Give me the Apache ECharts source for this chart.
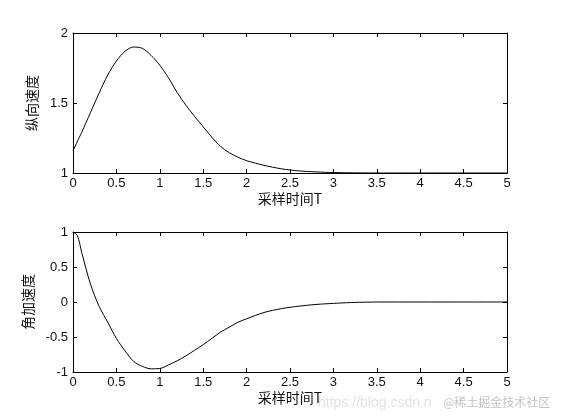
<!DOCTYPE html>
<html>
<head>
<meta charset="utf-8">
<script src="https://cdn.jsdelivr.net/npm/echarts@6/dist/echarts.min.js"></script>
<style>
html,body{margin:0;padding:0;background:#fff;}
#chart{width:561px;height:420px;}
</style>
</head>
<body>
<div id="chart"></div>
<script>
// ---- data ----
var timeTop  = [0, 0.1, 0.2, 0.3, 0.4, 0.5, 0.6, 0.7, 0.8, 0.9, 1.0, 1.1, 1.2, 1.3, 1.4, 1.5, 1.6, 1.7, 1.8, 1.9, 2.0, 2.2, 2.4, 2.6, 2.8, 3.0, 3.5, 4.0, 4.5, 5.0];
var speedTop = [1.16, 1.29, 1.43, 1.57, 1.70, 1.80, 1.87, 1.90, 1.89, 1.84, 1.77, 1.68, 1.575, 1.485, 1.405, 1.33, 1.255, 1.19, 1.145, 1.113, 1.088, 1.055, 1.03, 1.015, 1.008, 1.003, 1.0, 1.0, 1.0, 1.0];

var timeBottom = [0, 0.05, 0.1, 0.2, 0.3, 0.4, 0.5, 0.6, 0.7, 0.8, 0.9, 1.0, 1.1, 1.2, 1.3, 1.4, 1.5, 1.6, 1.7, 1.8, 1.9, 2.0, 2.2, 2.4, 2.6, 2.8, 3.0, 3.2, 3.4, 3.5, 4.0, 4.5, 5.0];
var accelBottom = [1.0, 0.95, 0.71, 0.26, -0.06, -0.29, -0.52, -0.70, -0.85, -0.92, -0.955, -0.95, -0.90, -0.84, -0.77, -0.69, -0.61, -0.52, -0.43, -0.36, -0.29, -0.24, -0.15, -0.095, -0.06, -0.035, -0.02, -0.008, -0.002, 0, 0, 0, 0];

var xTicks = {min: 0, max: 5, interval: 0.5};
var yTopTicks = {min: 1, max: 2, interval: 0.5};
var yBottomTicks = {min: -1, max: 1, interval: 0.5};

var xName = '采样时间T';
var yTopName = '纵向速度';
var yBottomName = '角加速度';

function pairs(xs, ys) { return xs.map(function (x, i) { return [x, ys[i]]; }); }

var LABEL_FONT = {fontFamily: 'Liberation Sans, Arial, sans-serif', fontSize: 13, color: '#111'};
var NAME_FONT = {fontFamily: 'Noto Sans CJK SC, sans-serif', fontSize: 14, color: '#111'};

function xAxis(gridIndex, pos, showLabel, name) {
  return {
    type: 'value', gridIndex: gridIndex, position: pos,
    min: xTicks.min, max: xTicks.max, interval: xTicks.interval,
    axisLine: {show: true, onZero: false, lineStyle: {color: '#000', width: 1}},
    axisTick: {show: true, inside: true, length: 4, lineStyle: {color: '#000'}},
    axisLabel: Object.assign({show: showLabel, margin: 4}, LABEL_FONT),
    splitLine: {show: false},
    name: name || '', nameLocation: 'middle', nameGap: 19,
    nameTextStyle: NAME_FONT
  };
}
function yAxis(gridIndex, pos, ticks, showLabel, name) {
  return {
    type: 'value', gridIndex: gridIndex, position: pos,
    min: ticks.min, max: ticks.max, interval: ticks.interval,
    axisLine: {show: true, onZero: false, lineStyle: {color: '#000', width: 1}},
    axisTick: {show: true, inside: true, length: 4, lineStyle: {color: '#000'}},
    axisLabel: Object.assign({show: showLabel, margin: 5}, LABEL_FONT),
    splitLine: {show: false},
    name: name || '', nameLocation: 'middle', nameGap: 34, nameRotate: 90,
    nameTextStyle: NAME_FONT
  };
}

var chart = echarts.init(document.getElementById('chart'), null, {renderer: 'canvas'});
chart.setOption({
  backgroundColor: '#fff',
  animation: false,
  grid: [
    {left: 73, top: 33, width: 434, height: 140},
    {left: 73, top: 232, width: 434, height: 140}
  ],
  xAxis: [
    xAxis(0, 'bottom', true, xName),
    xAxis(0, 'top', false),
    xAxis(1, 'bottom', true, xName),
    xAxis(1, 'top', false)
  ],
  yAxis: [
    yAxis(0, 'left', yTopTicks, true, yTopName),
    yAxis(0, 'right', yTopTicks, false),
    yAxis(1, 'left', yBottomTicks, true, yBottomName),
    yAxis(1, 'right', yBottomTicks, false)
  ],
  series: [
    {type: 'line', xAxisIndex: 0, yAxisIndex: 0, data: pairs(timeTop, speedTop),
     smooth: 0.3, showSymbol: false, lineStyle: {color: '#000', width: 1}},
    {type: 'line', xAxisIndex: 2, yAxisIndex: 2, data: pairs(timeBottom, accelBottom),
     smooth: 0.3, showSymbol: false, lineStyle: {color: '#000', width: 1}}
  ],
  graphic: [
    {type: 'text', left: 318, top: 396, silent: true,
     style: {text: 'https://blog.csdn.n', fill: '#e2e2e2', font: '14px Liberation Sans, Arial, sans-serif'}},
    {type: 'text', left: 443, top: 396, silent: true,
     style: {text: '@稀土掘金技术社区', fill: '#c4c4c4', font: '12px Noto Sans CJK SC, sans-serif'}}
  ]
});
</script>
</body>
</html>
